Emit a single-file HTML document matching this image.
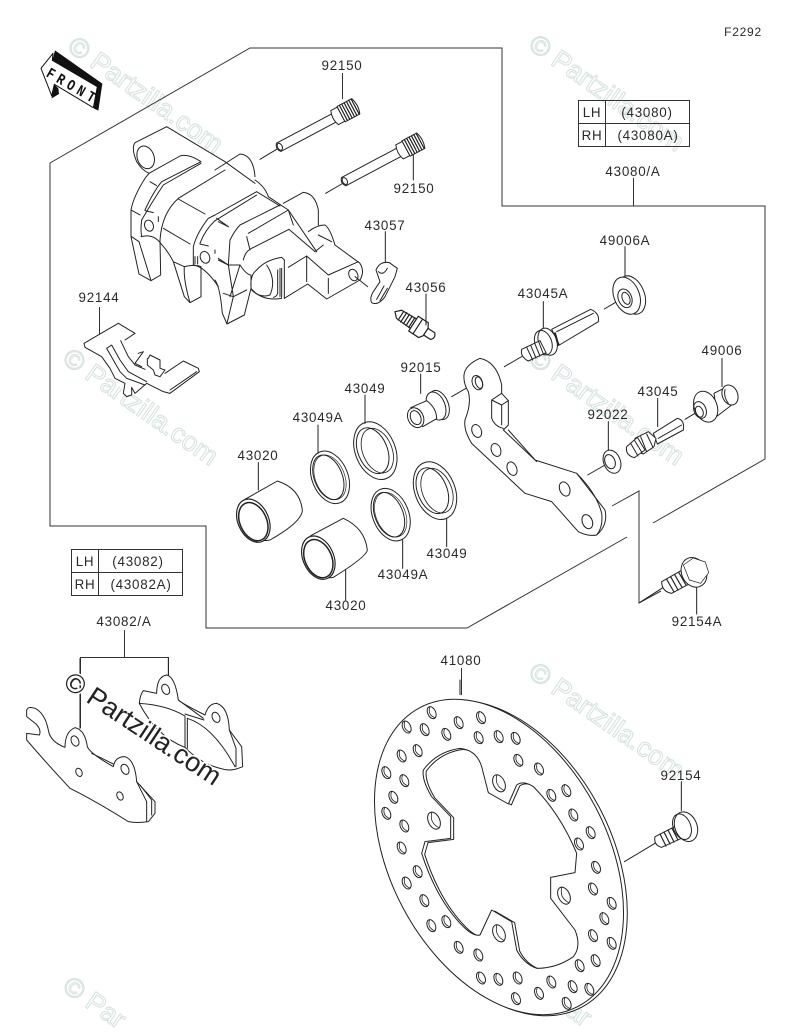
<!DOCTYPE html>
<html><head><meta charset="utf-8">
<style>
html,body{margin:0;padding:0;background:#fff;width:800px;height:1033px;overflow:hidden}
svg{display:block}
.l{font-family:"Liberation Sans",sans-serif;font-size:13.4px;letter-spacing:.75px;fill:#2a2a2a;text-anchor:middle}
.w{font-family:"Liberation Sans",sans-serif;font-size:27px;fill:#fff;stroke:#d8e4de;stroke-width:1.1px}
.s{fill:none;stroke:#222;stroke-width:3;stroke-linejoin:round;stroke-linecap:round}
.f{fill:#fff;stroke:#222;stroke-width:3;stroke-linejoin:round}
</style></head><body>
<svg width="800" height="1033" viewBox="0 0 800 1033" xmlns="http://www.w3.org/2000/svg" style="overflow:hidden">
<defs>
<g id="bolt">
<path class="f" d="M0,-14 L195,-14 L195,14 L0,14 Q-12,0 0,-14Z"/>
<ellipse class="s" cx="4" cy="0" rx="7" ry="11"/>
<path class="f" d="M190,-24 L212,-24 L212,24 L190,24 Q180,0 190,-24Z"/>
<path class="f" d="M212,-26 L262,-26 Q272,0 262,26 L212,26Z"/>
<path class="s" d="M220,-26V26M228,-26V26M236,-26V26M244,-26V26M252,-26V26M260,-26V26" style="stroke-width:3.6"/>
</g>
<g id="h" transform="rotate(-25)"><ellipse rx="12" ry="19"/><path d="M3,-18.5Q-15,0 3,18.5" style="stroke-width:2.4"/></g>
<g id="H" transform="rotate(-25)"><ellipse rx="17" ry="27"/><path d="M5,-26Q-16,0 5,26" style="stroke-width:2.4"/></g>
<clipPath id="hc"><path id="hp" d="M190,270 Q230,215 300,205 Q350,210 365,260 L385,338 L445,372 L470,315 Q490,300 520,320 Q600,400 650,520 L645,578 L572,592 L572,655 L645,750 Q665,800 640,830 Q590,865 530,865 Q490,850 470,810 L455,725 L395,690 L360,765 Q340,770 310,740 Q230,660 185,520 L195,485 L272,475 L272,410 L215,350 Q185,300 190,270Z"/></clipPath>
</defs>
<rect width="800" height="1033" fill="#fff"/>

<!-- watermarks -->
<g class="w">
<text transform="translate(66,50) rotate(35)">© Partzilla.com</text>
<text transform="translate(527,48) rotate(35)">© Partzilla.com</text>
<text transform="translate(61,362) rotate(35)">© Partzilla.com</text>
<text transform="translate(527,362) rotate(35)">© Partzilla.com</text>
<text transform="translate(527,676) rotate(35)">© Partzilla.com</text>
<text transform="translate(61,990) rotate(35)">© Par</text>
<text transform="translate(527,988) rotate(35)">© Par</text>
</g>

<!-- frame -->
<g fill="none" stroke="#333" stroke-width="1">
<polyline points="653,523 765,459 765,206 502,206 502,48 250,48 50,163 50,526 206,526 206,628 467,628 627,537"/>
<polyline points="612,506 639,491 639,603 661,591"/>
<rect x="578.5" y="100.5" width="111" height="46"/><path d="M578.5,123.5H689.5M605.5,100.5V146.5"/>
<rect x="71.5" y="549.5" width="111" height="46"/><path d="M71.5,572.5H182.5M98.5,549.5V595.5"/>
<path d="M633.5,178V206M124.5,630V657M80.5,728V657.5H168.5V676M461.5,668V695M342.5,73V99M99.5,307V334"/>
</g>

<!-- FRONT arrow -->
<g transform="translate(35,45) scale(.33333)">
<path d="M60,16 L202,116 L190,197 L176,190 L187,125 L52,46Z" fill="#111"/>
<path d="M50,160 L72,147 L70,130 L58,118 L50,152Z" fill="#111"/>
<path fill="#fff" stroke="#111" stroke-width="3" stroke-linejoin="round" d="M18,70 L54,25 L52,46 L187,125 L175,188 L58,118 L50,152Z"/>
<text transform="translate(31,92.5) rotate(30) scale(.8,1)" font-family="Liberation Mono,monospace" font-weight="700" font-size="46" letter-spacing="16" fill="#111">FRONT</text>
</g>

<!-- bolts, leaders, zoom1 coords -->
<g transform="translate(30,40) scale(.33333)">
<use href="#bolt" transform="translate(746,322) rotate(-28)"/>
<use href="#bolt" transform="translate(941,425) rotate(-28)"/>
<path class="s" d="M690,358L740,328M887,460L935,432M1150,345V420M1066,575V665"/>
<!-- banjo 43057 -->
<g class="s">
<path class="f" d="M1038,690 Q1050,662 1078,668 L1102,685 L1095,710 L1065,770 Q1045,798 1025,788 Q1018,775 1030,755 L1050,725 Z"/>
<path d="M1045,695Q1060,708 1072,685M1040,778L1062,738M1050,782L1072,745"/>
</g>
<!-- bleeder 43056 -->
<g transform="translate(1095,815) rotate(33) scale(1.2)" class="s">
<path class="f" d="M0,0L12,-12L55,-14L55,14L12,12Z"/>
<path d="M18,-13V13M26,-14V14M34,-14V14M42,-14V14M50,-14V14"/>
<path class="f" d="M55,-22L85,-22L92,-10L92,12L85,22L55,22Z"/>
<path d="M68,-22V22"/>
<path class="f" d="M92,-10L112,-10Q122,0 112,10L92,10Z"/>
</g>
<!-- silhouette -->
<path fill="#fff" d="M400,262 315,310 315,345 325,380 360,403 310,500 305,600 330,700 360,722 390,705 388,612 430,670 455,760 482,788 512,770 512,690 570,745 582,850 590,856 645,825 665,720 700,785 760,775 830,730 890,775 985,720 998,690 985,665 905,605 880,555 840,570 865,555 865,490 825,455 765,490 715,470 680,430 676,390 640,345 575,385Z"/>
</g>

<!-- caliper left, zoom B coords -->
<g transform="translate(125,120) scale(.33333)" class="s">
<path d="M125,20L30,68Q18,85 35,125Q50,150 72,160M125,20L300,125L390,190"/>
<ellipse cx="62" cy="112" rx="25" ry="35" transform="rotate(-20 62 112)"/>
<path d="M72,160L60,175Q25,230 18,270L18,350L42,462L78,482L107,465L105,360"/>
<path d="M18,270L45,285M20,350L42,365M75,185L95,197M160,237L240,282M115,325L195,372"/>
<path d="M72,160L165,108Q190,100 228,125L110,185Q85,215 60,270M228,130L115,195Q85,240 50,300"/>
<path d="M50,300Q46,330 50,350M60,272L85,278M100,290V305"/>
<ellipse cx="72" cy="317" rx="13" ry="17" transform="rotate(-20 72 317)"/>
<path d="M48,350Q85,340 107,370Q130,395 145,425L178,530L195,548L228,530L228,440Q210,432 178,440Q175,480 195,548M145,425L178,440"/>
<path d="M105,360Q110,280 160,235L300,150M270,150L345,102Q385,105 390,170M42,365L78,482"/>
<path d="M205,435L205,380Q215,340 250,295L270,285M225,370Q240,330 270,302M210,410V432M218,410V432M225,372L250,378M270,390V400M275,295L310,320"/>
<ellipse cx="240" cy="412" rx="14" ry="18" transform="rotate(-20 240 412)"/>
<path d="M205,435Q240,440 280,500M280,420L310,435"/>
</g>

<!-- caliper right, zoom C coords -->
<g transform="translate(215,180) scale(.33333)" class="s">
<path d="M120,0Q150,20 160,50L220,90L305,215"/>
<path d="M205,70L265,37Q300,40 310,90L310,135"/>
<path d="M0,105L125,35L195,78M0,122L125,45M10,125L40,140M45,180Q60,150 75,135L195,75M100,160L220,90M85,240Q90,215 110,205L222,148L300,215M95,170L105,210M220,90L235,135"/>
<path d="M10,235L40,255L45,180M40,255H75M0,300Q15,320 22,400L36,432L88,405L108,325L108,285M25,340L55,350L95,330M40,255L55,350L36,430M75,255L45,350M75,255Q95,285 108,285"/>
<path d="M108,320Q105,285 125,270Q150,240 200,232L208,240V355M108,325Q140,365 200,355M155,255Q185,300 165,345Q135,355 110,330M188,270V340Q185,350 175,352M195,265V350M200,265V352"/>
<path d="M208,355L278,312L335,357L435,300Q450,275 435,250L360,195Q345,145 330,135Q305,135 280,155M310,165L350,185M300,215L325,195"/>
<path d="M220,262L275,228L340,285L430,245M275,228V305M340,295V340"/>
<ellipse cx="415" cy="285" rx="13" ry="18" transform="rotate(-25 415 285)"/>
<path d="M420,290L458,320"/>
</g>

<!-- 92144 spring, zoom6 coords -->
<g transform="translate(70,310) scale(.33333)" class="s">
<path fill="#fff" stroke="none" d="M42,100L145,40L195,70L165,90L205,130L270,150L340,153L388,185L300,250L230,220L185,255L160,250L135,205L95,140L45,112Z"/>
<path d="M165,90L195,70L145,40L42,100L45,112L95,140L120,175L135,205L165,220L160,250L170,260L185,255V232L195,250L230,220L280,245L300,250L388,185L385,175L340,153L285,190"/>
<path d="M110,115L125,105L150,150L175,185L230,215M110,115L150,185L170,205L225,225M152,92L175,140L195,165L225,178"/>
<path d="M205,130L220,125L195,160L215,170M235,145L240,135L270,150V175L285,180L270,200L255,195L250,180L232,165V145M300,240L380,185"/>
</g>

<!-- right parts, zoom2 coords -->
<g transform="translate(400,230) scale(.33333)" class="s">
<path d="M675,50V140M430,215V300M78,192V285M62,432V490M966,385V470M773,505V590M625,575V660"/>
<path d="M155,500L215,465M313,410L368,378M613,237L650,215M855,568L885,550M563,735L615,705"/>
<!-- 49006A -->
<ellipse class="f" cx="695" cy="195" rx="38" ry="60" transform="rotate(-22 695 195)"/>
<ellipse class="f" cx="680" cy="197" rx="38" ry="58" transform="rotate(-22 680 197)"/>
<ellipse cx="675" cy="205" rx="20" ry="29" transform="rotate(-22 675 205)"/>
<ellipse cx="678" cy="205" rx="11" ry="19" transform="rotate(-22 678 205)"/>
<!-- 43045A -->
<path class="f" d="M455,298L572,238Q600,250 595,275L478,345Z"/>
<path d="M470,305L580,250"/>
<ellipse class="f" cx="443" cy="335" rx="27" ry="42" transform="rotate(-20 443 335)"/>
<ellipse cx="430" cy="338" rx="25" ry="38" transform="rotate(-20 430 338)"/>
<path class="f" d="M365,358L420,332L438,368L385,393Q360,380 365,358Z"/>
<path d="M380,352L398,390M392,346L408,384M404,340L420,378M416,335L430,372"/>
<path d="M465,310L475,345" style="stroke-width:6"/>
<!-- bracket -->
<path class="f" d="M192,435 Q195,405 240,385 Q290,395 305,465 L305,490 L325,512 L325,585 L310,600 L405,690 L530,730 L615,840 Q625,885 590,915 Q565,920 535,905 L455,815 L375,790 L215,640 Q190,600 195,570 Q215,520 205,485 Q190,460 192,435Z"/>
<path d="M275,510V565Q285,590 310,595M275,510L305,490M275,510L305,525V585M305,525L325,512M325,600L410,695M530,730Q590,790 605,850Q610,890 590,915"/>
<ellipse cx="232" cy="458" rx="15" ry="22" transform="rotate(-20 232 458)"/><ellipse cx="237" cy="458" rx="10" ry="18" transform="rotate(-20 237 458)"/>
<ellipse cx="230" cy="603" rx="14" ry="20" transform="rotate(-22 230 603)"/>
<ellipse cx="288" cy="660" rx="14" ry="20" transform="rotate(-22 288 660)"/>
<ellipse cx="336" cy="716" rx="14" ry="21" transform="rotate(-22 336 716)"/>
<ellipse cx="494" cy="777" rx="15" ry="22" transform="rotate(-22 494 777)"/>
<ellipse cx="562" cy="875" rx="15" ry="22" transform="rotate(-22 562 875)"/>
<!-- 92015 -->
<ellipse class="f" cx="117" cy="525" rx="28" ry="46" transform="rotate(-22 117 525)"/>
<ellipse class="f" cx="108" cy="528" rx="27" ry="44" transform="rotate(-22 108 528)"/>
<path class="f" d="M32,533L80,512Q110,535 110,566L68,590Z"/>
<ellipse class="f" cx="47" cy="563" rx="23" ry="31" transform="rotate(-25 47 563)"/>
<ellipse cx="47" cy="563" rx="15" ry="22" transform="rotate(-25 47 563)"/>
<!-- 92022 -->
<ellipse class="f" cx="636" cy="695" rx="25" ry="36" transform="rotate(-22 636 695)"/>
<ellipse cx="630" cy="695" rx="15" ry="22" transform="rotate(-22 630 695)"/>
<!-- 43045 -->
<path class="f" d="M760,610L832,565Q855,570 850,600L772,642Z"/>
<path d="M775,625L845,585"/>
<path class="f" d="M705,625L745,605L768,625L762,650L730,672L710,665Z"/>
<path d="M740,612L758,650M722,620L740,665"/>
<path class="f" d="M680,650L712,622L735,660L703,683Q675,675 680,650Z"/>
<path d="M692,640L714,678M704,632L726,668"/>
<!-- 49006 -->
<path class="f" d="M942,490L978,472L995,525L952,558Z"/>
<ellipse class="f" cx="990" cy="495" rx="23" ry="31" transform="rotate(-22 990 495)"/>
<path d="M975,478Q970,500 985,520"/>
<ellipse class="f" cx="917" cy="530" rx="34" ry="48" transform="rotate(-22 917 530)"/>
<ellipse cx="900" cy="540" rx="18" ry="26" transform="rotate(-22 900 540)"/>
<ellipse cx="898" cy="545" rx="11" ry="17" transform="rotate(-22 898 545)"/>
</g>

<!-- pistons & rings, zoom5 coords -->
<g transform="translate(220,390) scale(.33333)" class="s">
<path d="M115,218V300M294,105V190M435,15V100M680,385V470M548,450V535M377,540V630"/>
<path class="f" d="M75,328L172,273Q240,295 247,360Q247,395 150,450Q100,460 80,420Q60,370 75,328Z"/>
<ellipse class="f" cx="100" cy="392" rx="46" ry="68" transform="rotate(-24 100 392)" style="stroke-width:3.5"/>
<ellipse cx="100" cy="395" rx="40" ry="60" transform="rotate(-24 100 395)" style="stroke-width:4.5"/>
<path class="f" d="M272,437L370,385Q435,415 442,480Q440,500 340,562Q290,570 270,530Q255,480 272,437Z"/>
<ellipse class="f" cx="295" cy="503" rx="46" ry="68" transform="rotate(-24 295 503)" style="stroke-width:3.5"/>
<ellipse cx="295" cy="506" rx="40" ry="60" transform="rotate(-24 295 506)" style="stroke-width:4.5"/>
<ellipse cx="330" cy="262" rx="54" ry="82" transform="rotate(-22 330 262)"/>
<ellipse cx="325" cy="262" rx="42" ry="70" transform="rotate(-22 325 262)"/>
<ellipse cx="330" cy="262" rx="44" ry="70" transform="rotate(-22 330 262)" style="stroke-width:2"/>
<ellipse cx="512" cy="374" rx="54" ry="82" transform="rotate(-22 512 374)"/>
<ellipse cx="507" cy="374" rx="42" ry="70" transform="rotate(-22 507 374)"/>
<ellipse cx="512" cy="374" rx="44" ry="70" transform="rotate(-22 512 374)" style="stroke-width:2"/>
<ellipse cx="466" cy="182" rx="60" ry="90" transform="rotate(-22 466 182)"/>
<ellipse cx="458" cy="182" rx="44" ry="72" transform="rotate(-22 458 182)"/>
<ellipse cx="472" cy="182" rx="44" ry="70" transform="rotate(-22 472 182)" style="stroke-width:2.5"/>
<ellipse cx="645" cy="302" rx="60" ry="90" transform="rotate(-22 645 302)"/>
<ellipse cx="637" cy="302" rx="44" ry="72" transform="rotate(-22 637 302)"/>
<ellipse cx="651" cy="302" rx="44" ry="70" transform="rotate(-22 651 302)" style="stroke-width:2.5"/>
</g>

<!-- 92154A, zoom7 coords -->
<g transform="translate(630,530) scale(.33333)" class="s">
<path d="M200,170V252M30,217L100,172"/>
<path class="f" d="M95,155L160,118L190,155L125,190Q95,185 95,155Z"/>
<path d="M110,148L132,186M122,140L144,180M134,134L156,172M146,127L168,165" style="stroke-width:3.5"/>
<ellipse class="f" cx="192" cy="127" rx="37" ry="46" transform="rotate(-25 192 127)"/>
<path class="f" d="M160,105L190,84L226,96L236,128L212,160L178,150Z" style="stroke-width:2.2"/>
</g>

<!-- pads, zoom3 coords -->
<g transform="translate(0,640) scale(.33333)" class="s">
<path d="M240,55V265M505,55V105"/>
<path class="f" d="M430,152 L470,160 Q470,110 500,105 Q525,110 535,180 Q545,190 615,225 Q625,190 650,190 Q685,200 688,270 L725,320 L728,380 L715,385 Q690,395 660,385 Q600,370 555,322 Q470,290 418,190 Q420,165 430,152Z"/>
<ellipse cx="497" cy="148" rx="11" ry="16" transform="rotate(-25 497 148)"/>
<ellipse cx="648" cy="232" rx="11" ry="16" transform="rotate(-25 648 232)"/>
<path d="M418,190Q500,195 555,228V322M562,235Q640,260 705,380M562,235V325M555,222L612,240M688,270L708,325V380M535,180L610,235"/>
<path class="f" d="M80,210 Q85,198 105,205 Q135,220 145,270 Q150,305 195,322 Q195,275 225,263 Q255,270 262,320 Q270,340 340,380 Q345,350 375,350 Q405,360 410,425 L465,485 L465,520 L445,545 Q410,550 385,545 Q290,485 210,445 Q140,370 80,300 L80,280 L118,285 Q125,270 108,252 L80,230 Z"/>
<path d="M410,425L440,485V545M420,435L455,480V525M275,340L340,372"/>
<ellipse cx="225" cy="303" rx="11" ry="16" transform="rotate(-25 225 303)"/>
<ellipse cx="375" cy="388" rx="11" ry="16" transform="rotate(-25 375 388)"/>
<ellipse cx="237" cy="397" rx="9" ry="13" transform="rotate(-25 237 397)"/>
<ellipse cx="360" cy="468" rx="9" ry="13" transform="rotate(-25 360 468)"/>
</g>

<!-- disc, zoom4 coords -->
<g transform="translate(360,680) scale(.33333)" class="s">
<ellipse cx="427" cy="534" rx="507" ry="328" transform="rotate(62 427 534)"/>
<ellipse class="f" cx="417" cy="531" rx="507" ry="326" transform="rotate(62 417 531)"/>
<path d="M300,0V44M964,305V392M793,545L885,490"/>
<use href="#hp"/>
<g clip-path="url(#hc)"><use href="#hp" transform="translate(9,3)"/></g>
<use href="#h" transform="translate(215,98)"/><use href="#h" transform="translate(140,141)"/><use href="#h" transform="translate(194,149)"/><use href="#h" transform="translate(259,163)"/><use href="#h" transform="translate(296,128)"/><use href="#h" transform="translate(363,113)"/><use href="#h" transform="translate(356,173)"/><use href="#h" transform="translate(416,170)"/><use href="#h" transform="translate(467,175)"/><use href="#h" transform="translate(475,241)"/><use href="#h" transform="translate(537,267)"/><use href="#h" transform="translate(574,346)"/><use href="#h" transform="translate(619,332)"/><use href="#h" transform="translate(640,405)"/><use href="#h" transform="translate(692,458)"/><use href="#h" transform="translate(657,492)"/><use href="#h" transform="translate(708,562)"/><use href="#h" transform="translate(699,627)"/><use href="#h" transform="translate(755,670)"/><use href="#h" transform="translate(733,716)"/><use href="#h" transform="translate(699,767)"/><use href="#h" transform="translate(755,790)"/><use href="#h" transform="translate(707,842)"/><use href="#h" transform="translate(659,857)"/><use href="#h" transform="translate(688,928)"/><use href="#h" transform="translate(638,920)"/><use href="#h" transform="translate(574,906)"/><use href="#h" transform="translate(537,940)"/><use href="#h" transform="translate(473,894)"/><use href="#h" transform="translate(415,898)"/><use href="#h" transform="translate(363,894)"/><use href="#h" transform="translate(468,956)"/><use href="#h" transform="translate(620,970)"/><use href="#h" transform="translate(355,825)"/><use href="#h" transform="translate(296,802)"/><use href="#h" transform="translate(259,725)"/><use href="#h" transform="translate(214,737)"/><use href="#h" transform="translate(193,662)"/><use href="#h" transform="translate(140,609)"/><use href="#h" transform="translate(173,575)"/><use href="#h" transform="translate(125,504)"/><use href="#h" transform="translate(133,438)"/><use href="#h" transform="translate(79,400)"/><use href="#h" transform="translate(100,352)"/><use href="#h" transform="translate(133,302)"/><use href="#h" transform="translate(79,278)"/><use href="#h" transform="translate(125,228)"/><use href="#h" transform="translate(173,212)"/>
<use href="#H" transform="translate(417,310)"/><use href="#H" transform="translate(222,422)"/><use href="#H" transform="translate(612,647)"/><use href="#H" transform="translate(417,760)"/>
<!-- 92154 -->
<path class="f" d="M885,470L960,432L975,470L905,502Q880,495 885,470Z"/>
<path d="M900,462L918,498M912,456L930,492M924,450L942,486M936,445L954,480M948,440L965,476" style="stroke-width:3.5"/>
<ellipse class="f" cx="978" cy="440" rx="33" ry="46" transform="rotate(-22 978 440)"/>
<ellipse cx="966" cy="440" rx="26" ry="40" transform="rotate(-22 966 440)"/>
</g>

<!-- labels -->
<g class="l">
<text x="743" y="36" style="font-size:12px">F2292</text>
<text x="342" y="70">92150</text><text x="414" y="193">92150</text>
<text x="385" y="230">43057</text><text x="426" y="292">43056</text>
<text x="99" y="302">92144</text><text x="625" y="245">49006A</text>
<text x="543" y="298">43045A</text><text x="421" y="372">92015</text>
<text x="722" y="355">49006</text><text x="658" y="396">43045</text>
<text x="608" y="419">92022</text><text x="365" y="393">43049</text>
<text x="318" y="422">43049A</text><text x="258" y="460">43020</text>
<text x="447" y="558">43049</text><text x="403" y="579">43049A</text>
<text x="346" y="610">43020</text><text x="697" y="626">92154A</text>
<text x="633" y="176">43080/A</text><text x="124" y="626">43082/A</text>
<text x="461" y="665">41080</text><text x="681" y="780">92154</text>
<text x="592" y="117">LH</text><text x="647" y="117">(43080)</text>
<text x="592" y="140">RH</text><text x="648" y="140">(43080A)</text>
<text x="85" y="566">LH</text><text x="138" y="566">(43082)</text>
<text x="85" y="589">RH</text><text x="141" y="589">(43082A)</text>
</g>

<!-- dark watermark -->
<text transform="translate(62,686) rotate(33.5)" font-family="Liberation Sans,sans-serif" font-size="27" fill="#222" stroke="#fff" stroke-width="3" paint-order="stroke">© Partzilla.com</text>
</svg>
</body></html>
